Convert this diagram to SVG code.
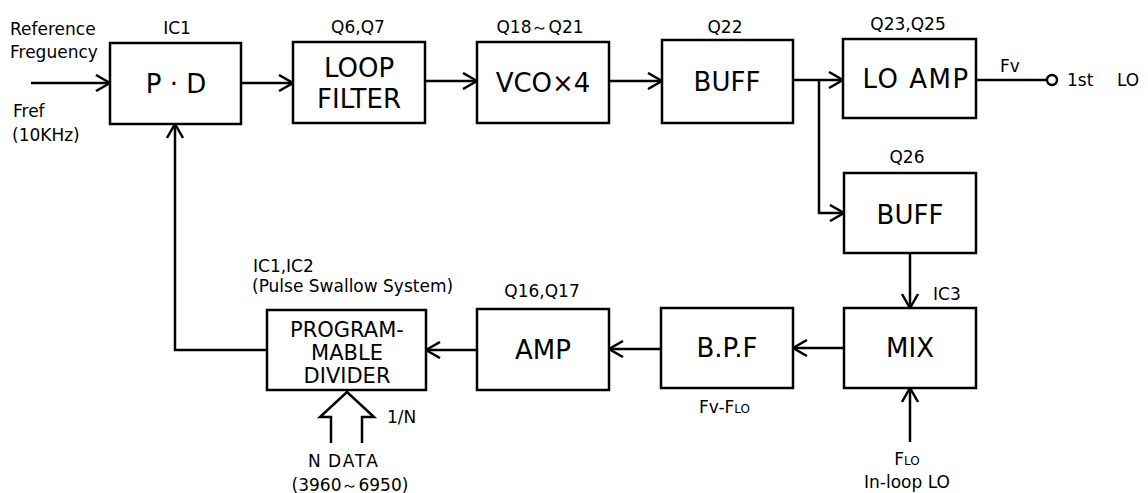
<svg xmlns="http://www.w3.org/2000/svg" width="1148" height="493" viewBox="0 0 1148 493">
<defs>
<style>
.box{fill:#fff;stroke:#000;stroke-width:2.5}
.ln{fill:none;stroke:#000;stroke-width:2.5}
.big{font-family:"DejaVu Sans","Liberation Sans",sans-serif;font-size:26px;fill:#000;text-anchor:middle}
.mid{font-family:"DejaVu Sans","Liberation Sans",sans-serif;font-size:21px;fill:#000;text-anchor:middle}
.sm{font-family:"DejaVu Sans","Liberation Sans",sans-serif;font-size:17px;fill:#000}
.c{text-anchor:middle}
</style>
<marker id="ah" viewBox="0 0 18 18" refX="16" refY="9" markerWidth="18" markerHeight="18" markerUnits="userSpaceOnUse" orient="auto">
<path d="M2,1 L16,9 L2,17" fill="none" stroke="#000" stroke-width="2.5"/>
</marker>
</defs>

<g id="connectors">
<line class="ln" x1="31" y1="83" x2="110" y2="83" marker-end="url(#ah)"/>
<line class="ln" x1="241" y1="83" x2="293" y2="83" marker-end="url(#ah)"/>
<line class="ln" x1="425" y1="81" x2="477" y2="81" marker-end="url(#ah)"/>
<line class="ln" x1="609" y1="81" x2="662" y2="81" marker-end="url(#ah)"/>
<line class="ln" x1="793" y1="80" x2="843" y2="80" marker-end="url(#ah)"/>
<polyline class="ln" points="819,80 819,213 844,213" marker-end="url(#ah)"/>
<line class="ln" x1="976" y1="80" x2="1047" y2="80"/>
<circle cx="1052" cy="80" r="5" fill="#fff" stroke="#000" stroke-width="2.5"/>
<line class="ln" x1="910" y1="253" x2="910" y2="308" marker-end="url(#ah)"/>
<line class="ln" x1="844" y1="348" x2="793" y2="348" marker-end="url(#ah)"/>
<line class="ln" x1="661" y1="349" x2="609" y2="349" marker-end="url(#ah)"/>
<line class="ln" x1="477" y1="350" x2="426" y2="350" marker-end="url(#ah)"/>
<polyline class="ln" points="267,350 175,350 175,124" marker-end="url(#ah)"/>
<line class="ln" x1="910" y1="442" x2="910" y2="388" marker-end="url(#ah)"/>
<polyline class="ln" points="331,443 331,417 320,417 347,392 374,417 362,417 362,443"/>
</g>

<g id="pd">
<rect class="box" x="110" y="43" width="131" height="81"/>
<text class="sm c" x="177" y="34">IC1</text>
<text class="big" x="176" y="93">P · D</text>
</g>

<g id="loopfilter">
<rect class="box" x="293" y="42" width="132" height="81"/>
<text class="sm c" x="358" y="33">Q6,Q7</text>
<text class="big" x="359" y="77">LOOP</text>
<text class="big" x="359" y="108">FILTER</text>
</g>

<g id="vco">
<rect class="box" x="477" y="42" width="132" height="81"/>
<text class="sm c" x="540" y="33">Q18～Q21</text>
<text class="big" x="543" y="92">VCO×4</text>
</g>

<g id="buff1">
<rect class="box" x="662" y="40" width="131" height="83"/>
<text class="sm c" x="725" y="33">Q22</text>
<text class="big" x="727" y="91">BUFF</text>
</g>

<g id="loamp">
<rect class="box" x="843" y="39" width="133" height="79"/>
<text class="sm c" x="908" y="30">Q23,Q25</text>
<text class="big" x="916" y="88" letter-spacing="1.5">LO AMP</text>
</g>

<g id="out">
<text class="sm" x="1000" y="72">Fv</text>
<text class="sm" x="1067" y="86">1st</text>
<text class="sm" x="1117" y="86">LO</text>
</g>

<g id="buff2">
<rect class="box" x="844" y="173" width="132" height="80"/>
<text class="sm c" x="907" y="163">Q26</text>
<text class="big" x="910" y="224">BUFF</text>
</g>

<g id="mix">
<rect class="box" x="844" y="308" width="132" height="80"/>
<text class="sm" x="933" y="300">IC3</text>
<text class="big" x="910" y="357">MIX</text>
<text class="sm c" x="907" y="465">F<tspan font-size="12">LO</tspan></text>
<text class="sm c" x="907" y="488">In-loop LO</text>
</g>

<g id="bpf">
<rect class="box" x="661" y="308" width="132" height="80"/>
<text class="big" x="727" y="357">B.P.F</text>
<text class="sm" x="699" y="413">Fv-F<tspan font-size="12">LO</tspan></text>
</g>

<g id="amp">
<rect class="box" x="477" y="309" width="132" height="81"/>
<text class="sm c" x="542" y="297">Q16,Q17</text>
<text class="big" x="543" y="359">AMP</text>
</g>

<g id="divider">
<rect class="box" x="267" y="310" width="159" height="80"/>
<text class="sm" x="253" y="272" font-size="16">IC1,IC2</text>
<text class="sm" x="252" y="292" font-size="16">(Pulse Swallow System)</text>
<text class="mid" x="347" y="337">PROGRAM-</text>
<text class="mid" x="347" y="360">MABLE</text>
<text class="mid" x="347" y="383">DIVIDER</text>
<text class="sm" x="387" y="423">1/N</text>
<text class="sm" x="308" y="467">N</text>
<text class="sm" x="328" y="467" letter-spacing="2">DATA</text>
<text class="sm c" x="350" y="491">(3960～6950)</text>
</g>

<g id="ref">
<text class="sm" x="10" y="35">Reference</text>
<text class="sm" x="10" y="58">Freguency</text>
<text class="sm" x="13" y="117">Fref</text>
<text class="sm" x="12" y="141">(10KHz)</text>
</g>
</svg>
